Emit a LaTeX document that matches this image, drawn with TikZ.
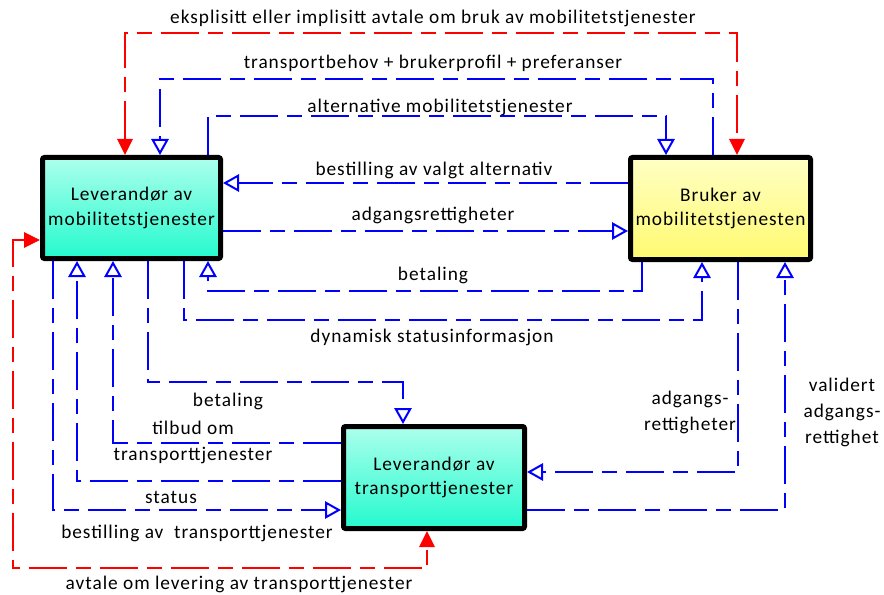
\documentclass[tikz,border=0pt]{standalone}
\usepackage{fontspec}
\setmainfont[LetterSpace=5]{Carlito}
\usetikzlibrary{arrows.meta}
\definecolor{flowblue}{RGB}{0,0,255}
\definecolor{flowred}{RGB}{255,0,0}
\definecolor{cyantop}{RGB}{172,255,236}
\definecolor{cyanbot}{RGB}{36,250,206}
\definecolor{yeltop}{RGB}{255,255,196}
\definecolor{yelbot}{RGB}{255,250,112}
\begin{document}
\begin{tikzpicture}[x=0.75pt,y=-0.75pt,
  box/.style={draw=black, line width=3.75pt, rounded corners=1.5pt, align=center,
    inner sep=0pt, font=\fontsize{14.5}{18.5}\selectfont},
  lbl/.style={inner sep=0pt, align=center, font=\fontsize{14.5}{19.5}\selectfont, anchor=base},
  flow/.style={draw=flowblue, line width=1.5pt,
    dash pattern=on 28.5pt off 6.75pt on 11.25pt off 6.75pt,
    -{Triangle[open, length=12pt, width=13pt]}},
  bothred/.style={draw=flowred, line width=1.5pt,
    dash pattern=on 28.5pt off 6.75pt on 11.25pt off 6.75pt,
    {Triangle[length=12pt, width=11.5pt]}-{Triangle[length=12pt, width=11.5pt]}}
]
\useasboundingbox (0,0) rectangle (884,595);

% boxes
\node[box, top color=cyantop, bottom color=cyanbot, minimum width=133.5pt, minimum height=75.75pt]
  (L) at (131.5,208) {Leverandør av\\mobilitetstjenester};
\node[box, top color=yeltop, bottom color=yelbot, minimum width=135pt, minimum height=76.5pt]
  (B) at (720.5,208.5) {Bruker av\\mobilitetstjenesten};
\node[box, top color=cyantop, bottom color=cyanbot, minimum width=135.75pt, minimum height=76.5pt]
  (T) at (434,477.5) {Leverandør av\\transporttjenester};

% connectors
\draw[bothred] (L.north -| 125,0) -- (125,33) -- (737,33) -- (B.north -| 737,0);
\draw[flow] (B.north -| 713,0) -- (713,79) -- (160,79) -- (L.north -| 160,0);
\draw[flow] (L.north -| 208,0) -- (208,116) -- (666,116) -- (B.north -| 666,0);
\draw[flow] (B.west |- 0,183) -- (L.east |- 0,183);
\draw[flow] (L.east |- 0,231) -- (B.west |- 0,231);
\draw[flow] (B.south -| 642,0) -- (642,291) -- (208,291) -- (L.south -| 208,0);
\draw[flow] (L.south -| 184,0) -- (184,320) -- (702,320) -- (B.south -| 702,0);
\draw[flow] (L.south -| 148,0) -- (148,382) -- (403,382) -- (T.north -| 403,0);
\draw[flow] (T.west |- 0,443) -- (113,443) -- (L.south -| 113,0);
\draw[flow] (T.west |- 0,481) -- (77,481) -- (L.south -| 77,0);
\draw[flow] (L.south -| 53,0) -- (53,510) -- (T.west |- 0,510);
\draw[bothred] (L.west |- 0,240) -- (13,240) -- (13,568) -- (427,568) -- (T.south -| 427,0);
\draw[flow] (B.south -| 738,0) -- (738,472) -- (T.east |- 0,472);
\draw[flow] (T.east |- 0,510) -- (785,510) -- (B.south -| 785,0);

% labels
\node[lbl] (t1) at (433,24) {eksplisitt eller implisitt avtale om bruk av mobilitetstjenester};
\node[lbl] (t2) at (433,69) {transportbehov + brukerprofil + preferanser};
\node[lbl] (t3) at (440,113) {alternative mobilitetstjenester};
\node[lbl] (t4) at (434,176) {bestilling av valgt alternativ};
\node[lbl] (t5) at (433,221) {adgangsrettigheter};
\node[lbl] (t6) at (433,280) {betaling};
\node[lbl] (t7) at (432,342) {dynamisk statusinformasjon};
\node[lbl] (t8) at (228,406) {betaling};
\node[lbl] (t9) at (193,460) {tilbud om\\transporttjenester};
\node[lbl] (t10) at (171,503) {status};
\node[lbl] (t11) at (197,538) {bestilling av\ \ transporttjenester};
\node[lbl] (t12) at (239,589) {avtale om levering av transporttjenester};
\node[lbl] (t13) at (690,430) {adgangs-\\rettigheter};
\node[lbl] (t14) at (842,443) {validert\\adgangs-\\rettighet};
\end{tikzpicture}
\end{document}
